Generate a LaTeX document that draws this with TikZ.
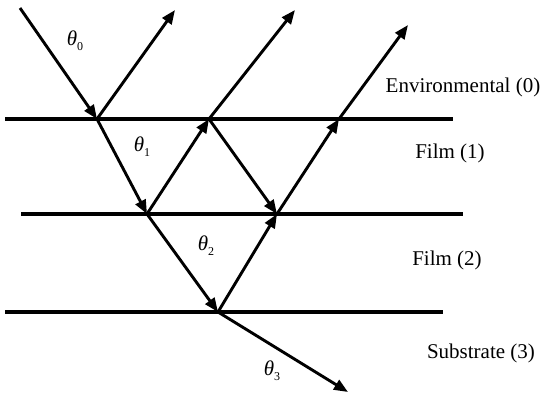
\documentclass[tikz,border=0pt]{standalone}
\usepackage{fontspec}
\setmainfont{Liberation Serif}
\usetikzlibrary{arrows.meta}
\newcommand{\thlab}[1]{{\itshape θ}\raisebox{-5pt}{\fontsize{12}{12}\selectfont #1}}
\begin{document}
\begin{tikzpicture}[x=1pt,y=-1pt,
  iface/.style={line width=3.6pt},
  ray/.style={line width=2.9pt,-{Triangle[length=14pt,width=11pt]}},
  lbl/.style={font=\fontsize{21}{21}\selectfont,anchor=base,inner sep=0pt},
  ang/.style={font=\fontsize{21}{21}\selectfont,inner sep=0pt}]
\useasboundingbox (0,0) rectangle (543,399);
% interfaces
\coordinate (L1a) at (5,119);   \coordinate (L1b) at (453,119);
\coordinate (L2a) at (21,214);  \coordinate (L2b) at (463,214);
\coordinate (L3a) at (5,312);   \coordinate (L3b) at (443,312);
\draw[iface] (L1a) -- (L1b);
\draw[iface] (L2a) -- (L2b);
\draw[iface] (L3a) -- (L3b);
% ray points
\coordinate (S) at (20,8);
\coordinate (A) at (97,119);
\coordinate (B) at (147,214);
\coordinate (C) at (209,119);
\coordinate (D) at (277,214);
\coordinate (E) at (339,119);
\coordinate (F) at (218,312);
\coordinate (R1) at (175,10);
\coordinate (R2) at (295,10);
\coordinate (R3) at (408,25);
\coordinate (T) at (348,392);
% rays
\draw[ray] (S) -- (A);
\draw[ray] (A) -- (R1);
\draw[ray] (A) -- (B);
\draw[ray] (B) -- (C);
\draw[ray] (C) -- (R2);
\draw[ray] (C) -- (D);
\draw[ray] (D) -- (E);
\draw[ray] (E) -- (R3);
\draw[ray] (B) -- (F);
\draw[ray] (F) -- (D);
\draw[ray] (F) -- (T);
% angle labels
\node[ang] (t0) at (75,41) {\thlab{0}};
\node[ang] (t1) at (142,147) {\thlab{1}};
\node[ang] (t2) at (206,246) {\thlab{2}};
\node[ang] (t3) at (272,371) {\thlab{3}};
% region labels
\node[lbl] (env) at (463,92) {Environmental (0)};
\node[lbl] (f1) at (450,158) {Film (1)};
\node[lbl] (f2) at (447,265) {Film (2)};
\node[lbl] (sub) at (481,358) {Substrate (3)};
\end{tikzpicture}
\end{document}
